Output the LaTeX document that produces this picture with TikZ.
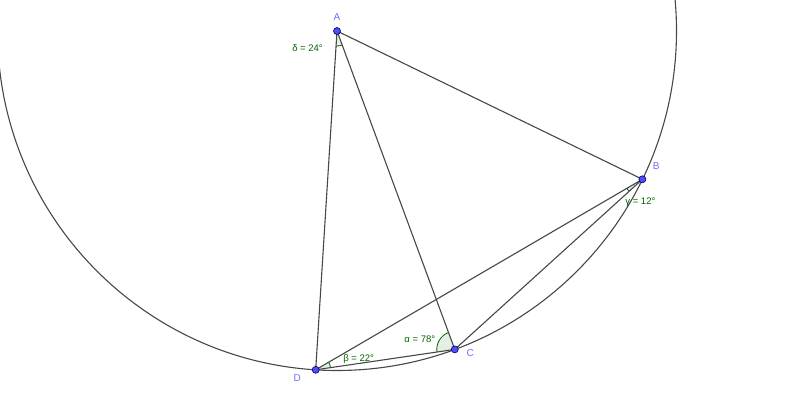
\documentclass[tikz,border=0pt]{standalone}
\usepackage{fontspec}
\setmainfont{Liberation Sans}
\usetikzlibrary{angles, calc, positioning}
\definecolor{ggblue}{RGB}{77,77,255}
\definecolor{gglabel}{RGB}{110,110,255}
\definecolor{gggreen}{RGB}{0,100,0}
\tikzset{
    seg/.style={draw=black!72, line width=1.1pt},
    pt/.style={
        circle,
        fill=ggblue,
        draw=black!60!blue,
        line width=0.6pt,
        inner sep=0pt,
        minimum size=7pt,
    },
    ptlabel/.style={text=gglabel, inner sep=1pt, font=\fontsize{10}{12}\selectfont},
    anglabel/.style={text=gggreen, inner sep=1pt, font=\fontsize{9.5}{11}\selectfont},
    angmark/.style={draw=gggreen, fill=gggreen!10, line width=0.8pt},
}

\begin{document}
\begin{tikzpicture}[x=1pt, y=1pt]
    \useasboundingbox (0,0) rectangle (800,-414);
    \clip (0,0) rectangle (800,-414);
    % centre and points on the circle
    \coordinate (A) at (337,-31);
    \path (A) ++(266.4:339.5pt) coordinate (D);
    \path (A) ++(290.3:339.5pt) coordinate (C);
    \path (A) ++(334.1:339.5pt) coordinate (B);
    % angles
    \pic[angmark, angle radius=15pt] {angle = D--A--C};
    \pic[angmark, angle radius=18pt] {angle = A--C--D};
    \pic[angmark, angle radius=15pt] {angle = C--D--B};
    \pic[angmark, angle radius=18pt] {angle = D--B--C};
    % circle and segments
    \draw[seg] (A) circle[radius=339.5pt];
    \draw[seg] (A) -- (D);
    \draw[seg] (A) -- (C);
    \draw[seg] (A) -- (B);
    \draw[seg] (D) -- (B);
    \draw[seg] (D) -- (C);
    \draw[seg] (C) -- (B);
    % points
    \node[pt] (dotA) at (A) {};
    \node[pt] (dotB) at (B) {};
    \node[pt] (dotC) at (C) {};
    \node[pt] (dotD) at (D) {};
    \node[ptlabel, above=5.3pt of dotA] (labA) {A};
    \node[ptlabel, above right=6.3pt and 6.7pt of dotB] (labB) {B};
    \node[ptlabel, right=6.9pt of dotC, yshift=-3.5pt] (labC) {C};
    \node[ptlabel, below left=1.4pt and 10.9pt of dotD] (labD) {D};
    % angle values
    \node[anglabel] (labdelta) at ($(A)+(-29.5,-17.5)$) {δ = 24°};
    \node[anglabel] (labgamma) at ($(B)+(-2,-23)$) {γ = 12°};
    \node[anglabel] (labalpha) at ($(C)+(-35,10.5)$) {α = 78°};
    \node[anglabel] (labbeta) at ($(D)+(43,11)$) {β = 22°};
\end{tikzpicture}
\end{document}
